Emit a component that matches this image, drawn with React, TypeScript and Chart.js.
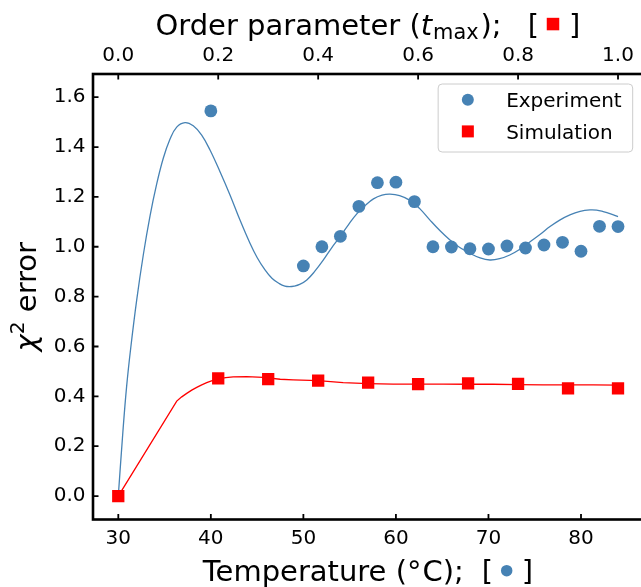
import React, { useEffect, useRef } from 'react';
import { Chart, registerables } from 'chart.js';

Chart.register(...registerables);

// ---------- data ----------
const expTemperature = [40, 50, 52, 54, 56, 58, 60, 62, 64, 66, 68, 70, 72, 74, 76, 78, 80, 82, 84];
const expError = [1.545, 0.923, 1.0, 1.042, 1.162, 1.257, 1.259, 1.181, 1.0, 0.999, 0.992, 0.991, 1.003, 0.995, 1.007, 1.018, 0.982, 1.082, 1.081];

const simOrder = [0.0, 0.2, 0.3, 0.4, 0.5, 0.6, 0.7, 0.8, 0.9, 1.0];
const simError = [0.0, 0.472, 0.469, 0.463, 0.455, 0.449, 0.452, 0.45, 0.432, 0.432];

const expFitTemperature = [30, 30.5, 30.9, 31.34, 31.99, 32.7, 33.43, 34.15, 34.86, 35.59, 36.31, 37.21, 38.1, 39.01, 39.91, 40.99, 42.07, 43.15, 44.23, 45.0, 45.8, 46.6, 47.4, 48.0, 48.5, 49.0, 49.6, 50.37, 51.2, 52.16, 53.0, 53.97, 54.9, 55.77, 56.7, 57.57, 58.5, 59.36, 60.4, 61.52, 62.6, 63.68, 64.8, 65.84, 66.9, 68.0, 69.1, 70.16, 71.2, 72.3, 73.4, 74.5, 75.6, 76.65, 77.7, 78.8, 79.9, 80.97, 81.7, 82.4, 83.2, 84.0];
const expFitError = [0.0, 0.26, 0.44, 0.593, 0.787, 0.967, 1.124, 1.252, 1.355, 1.432, 1.48, 1.498, 1.485, 1.448, 1.388, 1.301, 1.208, 1.107, 1.014, 0.957, 0.91, 0.874, 0.852, 0.842, 0.84, 0.842, 0.849, 0.867, 0.9, 0.947, 0.993, 1.041, 1.09, 1.132, 1.166, 1.192, 1.207, 1.211, 1.205, 1.186, 1.152, 1.107, 1.063, 1.027, 0.997, 0.974, 0.955, 0.947, 0.952, 0.967, 0.99, 1.02, 1.05, 1.081, 1.107, 1.128, 1.142, 1.148, 1.147, 1.141, 1.132, 1.121];

const simFitOrder = [0, 0.117, 0.127, 0.137, 0.147, 0.157, 0.167, 0.177, 0.188, 0.2, 0.215, 0.23, 0.257, 0.29, 0.324, 0.35, 0.4, 0.45, 0.5, 0.55, 0.6, 0.65, 0.7, 0.75, 0.8, 0.85, 0.9, 0.95, 1.0];
const simFitError = [0, 0.381, 0.398, 0.412, 0.425, 0.436, 0.446, 0.455, 0.463, 0.47, 0.475, 0.478, 0.479, 0.4765, 0.4685, 0.466, 0.463, 0.455, 0.451, 0.449, 0.449, 0.449, 0.4485, 0.4485, 0.447, 0.446, 0.446, 0.446, 0.445];

const temperatureTicks = [30, 40, 50, 60, 70, 80];
const orderTicks = [0.0, 0.2, 0.4, 0.6, 0.8, 1.0];
const errorTicks = [0.0, 0.2, 0.4, 0.6, 0.8, 1.0, 1.2, 1.4, 1.6];

const legendLabels = ['Experiment', 'Simulation'];
const topTitle = ['Order parameter (', 't', 'max', ');'];
const bottomTitle = ['Temperature (', '°', 'C);'];
const yTitle = ['χ', '2', ' error'];

const BLUE = '#4682b4';
const RED = '#ff0000';
const FAMILY = '"DejaVu Sans"';
const TITLE_SIZE = 29;

// ---------- rich text helpers ----------
type TextPart = { text: string; size: number; italic?: boolean; dy?: number; gap?: number };
type MarkPart = { marker: 'rect' | 'circle'; color: string; size: number; before: number; after: number };
type Part = TextPart | MarkPart;

const fontOf = (p: TextPart) => `${p.italic ? 'italic ' : ''}${p.size}px ${FAMILY}`;

function partWidth(ctx: CanvasRenderingContext2D, p: Part) {
  if ('marker' in p) return p.before + p.size + p.after;
  ctx.font = fontOf(p);
  return ctx.measureText(p.text).width + (p.gap || 0);
}

function drawParts(ctx: CanvasRenderingContext2D, parts: Part[], cx: number, baseline: number, markerMid: number) {
  const total = parts.reduce((s, p) => s + partWidth(ctx, p), 0);
  let x = cx - total / 2;
  ctx.textAlign = 'left';
  ctx.textBaseline = 'alphabetic';
  for (const p of parts) {
    if ('marker' in p) {
      const mx = x + p.before + p.size / 2;
      const my = baseline - markerMid;
      ctx.fillStyle = p.color;
      if (p.marker === 'rect') {
        ctx.fillRect(mx - p.size / 2, my - p.size / 2, p.size, p.size);
      } else {
        ctx.beginPath();
        ctx.arc(mx, my, p.size / 2, 0, Math.PI * 2);
        ctx.fill();
      }
      x += p.before + p.size + p.after;
    } else {
      ctx.fillStyle = '#000';
      ctx.font = fontOf(p);
      ctx.fillText(p.text, x, baseline + (p.dy || 0));
      x += ctx.measureText(p.text).width + (p.gap || 0);
    }
  }
}

// ---------- plugins ----------
const framePlugin = {
  id: 'frameTicks',
  afterDatasetsDraw(chart: any) {
    const { ctx, chartArea: a, scales } = chart;
    ctx.save();
    ctx.strokeStyle = '#000';
    ctx.lineWidth = 1.8;
    const tl = 5.5;
    ctx.beginPath();
    scales.x.ticks.forEach((t: any) => {
      const px = scales.x.getPixelForValue(t.value);
      ctx.moveTo(px, a.bottom);
      ctx.lineTo(px, a.bottom - tl);
    });
    scales.x2.ticks.forEach((t: any) => {
      const px = scales.x2.getPixelForValue(t.value);
      ctx.moveTo(px, a.top);
      ctx.lineTo(px, a.top + tl);
    });
    scales.y.ticks.forEach((t: any) => {
      const py = scales.y.getPixelForValue(t.value);
      ctx.moveTo(a.left, py);
      ctx.lineTo(a.left + tl, py);
    });
    ctx.stroke();
    ctx.lineWidth = 2.6;
    ctx.strokeRect(a.left, a.top, a.right - a.left, a.bottom - a.top);
    ctx.restore();
  },
};

const legendPlugin = {
  id: 'boxLegend',
  afterDraw(chart: any) {
    const { ctx, chartArea: a } = chart;
    ctx.save();
    ctx.font = `20px ${FAMILY}`;
    const tw = Math.max(...legendLabels.map((l) => ctx.measureText(l).width));
    const w = 68 + tw + 11;
    const h = 68;
    const x0 = a.right - 10 - w;
    const y0 = a.top + 10;
    ctx.beginPath();
    ctx.roundRect(x0, y0, w, h, 4);
    ctx.fillStyle = 'rgba(255,255,255,0.8)';
    ctx.fill();
    ctx.strokeStyle = '#cccccc';
    ctx.lineWidth = 1;
    ctx.stroke();
    const styles = [
      { shape: 'circle', color: BLUE },
      { shape: 'rect', color: RED },
    ];
    legendLabels.forEach((label, i) => {
      const cy = y0 + 15.7 + i * 31.7;
      const mx = x0 + 29.7;
      ctx.fillStyle = styles[i].color;
      if (styles[i].shape === 'circle') {
        ctx.beginPath();
        ctx.arc(mx, cy, 6, 0, Math.PI * 2);
        ctx.fill();
      } else {
        ctx.fillRect(mx - 6, cy - 6, 12, 12);
      }
      ctx.fillStyle = '#000';
      ctx.textAlign = 'left';
      ctx.textBaseline = 'alphabetic';
      ctx.fillText(label, x0 + 68, cy + 7.3);
    });
    ctx.restore();
  },
};

const titlesPlugin = {
  id: 'richTitles',
  afterDraw(chart: any) {
    const { ctx, chartArea: a } = chart;
    const F = TITLE_SIZE;
    const cx = (a.left + a.right) / 2;
    ctx.save();
    const top: Part[] = [
      { text: topTitle[0], size: F },
      { text: topTitle[1], size: F, italic: true, gap: 1 },
      { text: topTitle[2], size: F * 0.72, dy: F * 0.17, gap: 2 },
      { text: topTitle[3], size: F, gap: 26 },
      { text: '[', size: F },
      { marker: 'rect', color: RED, size: 12.5, before: 7.8, after: 9.7 },
      { text: ']', size: F },
    ];
    drawParts(ctx, top, cx, 34.5, F * 0.36);
    const bottom: Part[] = [
      { text: bottomTitle[0], size: F },
      { text: bottomTitle[1], size: F, gap: 1 },
      { text: bottomTitle[2], size: F, gap: 18 },
      { text: '[', size: F },
      { marker: 'circle', color: BLUE, size: 11.5, before: 7.8, after: 9.2 },
      { text: ']', size: F },
    ];
    drawParts(ctx, bottom, cx, 580.5, F * 0.34);
    ctx.save();
    ctx.translate(36, (a.top + a.bottom) / 2);
    ctx.rotate(-Math.PI / 2);
    const yt: Part[] = [
      { text: yTitle[0], size: F, italic: true },
      { text: yTitle[1], size: F * 0.7, dy: -F * 0.4 },
      { text: yTitle[2], size: F },
    ];
    drawParts(ctx, yt, 0, 0, 0);
    ctx.restore();
    ctx.restore();
  },
};

// ---------- component ----------
export default function App() {
  const ref = useRef<HTMLCanvasElement | null>(null);

  useEffect(() => {
    if (!ref.current) return;
    document.body.style.margin = '0';
    const tickFont = { family: 'DejaVu Sans', size: 20 };
    const fixTicks = (arr: number[]) => (scale: any) => {
      scale.ticks = arr.map((v) => ({ value: v }));
    };
    const chart = new Chart(ref.current, {
      type: 'scatter',
      data: {
        datasets: [
          {
            label: 'Simulation',
            data: simOrder.map((t, i) => ({ x: t, y: simError[i] })),
            xAxisID: 'x2',
            yAxisID: 'y',
            pointStyle: 'rect',
            pointRadius: 8.7,
            backgroundColor: RED,
            borderColor: RED,
            borderWidth: 0,
            order: 0,
          },
          {
            label: 'Experiment',
            data: expTemperature.map((t, i) => ({ x: t, y: expError[i] })),
            xAxisID: 'x',
            yAxisID: 'y',
            pointStyle: 'circle',
            pointRadius: 6.4,
            backgroundColor: BLUE,
            borderColor: BLUE,
            borderWidth: 0,
            order: 1,
          },
          {
            label: 'Simulation fit',
            data: simFitOrder.map((t, i) => ({ x: t, y: simFitError[i] })),
            xAxisID: 'x2',
            yAxisID: 'y',
            showLine: true,
            pointRadius: 0,
            borderColor: RED,
            borderWidth: 1.3,
            tension: 0,
            order: 2,
          },
          {
            label: 'Experiment fit',
            data: expFitTemperature.map((t, i) => ({ x: t, y: expFitError[i] })),
            xAxisID: 'x',
            yAxisID: 'y',
            showLine: true,
            pointRadius: 0,
            borderColor: BLUE,
            borderWidth: 1.3,
            tension: 0.4,
            order: 3,
          },
        ] as any,
      },
      options: {
        animation: false,
        responsive: false,
        devicePixelRatio: 1,
        events: [],
        layout: { padding: { left: 0, top: 0, right: 17.3, bottom: 0 } },
        plugins: { legend: { display: false }, tooltip: { enabled: false }, title: { display: false } },
        scales: {
          x: {
            type: 'linear',
            position: 'bottom',
            min: 27.266,
            max: 86.667,
            afterBuildTicks: fixTicks(temperatureTicks),
            ticks: { font: tickFont, color: '#000', padding: 7.5, maxRotation: 0, autoSkip: false, callback: (v: any) => String(v) },
            grid: { display: false, drawTicks: false },
            border: { display: false },
            afterFit: (s: any) => { s.height = 67.5; },
          },
          x2: {
            type: 'linear',
            position: 'top',
            min: -0.05056,
            max: 1.0494,
            afterBuildTicks: fixTicks(orderTicks),
            ticks: { font: tickFont, color: '#000', padding: 6.4, maxRotation: 0, autoSkip: false, callback: (v: any) => Number(v).toFixed(1) },
            grid: { display: false, drawTicks: false },
            border: { display: false },
            afterFit: (s: any) => { s.height = 74; },
          },
          y: {
            type: 'linear',
            position: 'left',
            min: -0.094,
            max: 1.693,
            afterBuildTicks: fixTicks(errorTicks),
            ticks: { font: tickFont, color: '#000', padding: 7.5, autoSkip: false, callback: (v: any) => Number(v).toFixed(1) },
            grid: { display: false, drawTicks: false },
            border: { display: false },
            afterFit: (s: any) => { s.width = 93; },
          },
        },
      } as any,
      plugins: [framePlugin, legendPlugin, titlesPlugin],
    });
    return () => chart.destroy();
  }, []);

  return (
    <div style={{ position: 'absolute', left: 0, top: 0, width: 641, height: 587, overflow: 'hidden', background: '#fff' }}>
      <canvas ref={ref} width={660} height={587} style={{ display: 'block', width: 660, height: 587 }} />
    </div>
  );
}
